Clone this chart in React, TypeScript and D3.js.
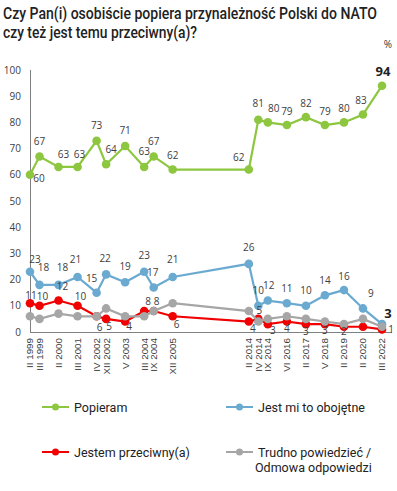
import React from "react";
import * as d3 from "d3";

// Categories as laid out on the original axis ("" = empty slot)
const categories: string[] = [
  "II 1999", "III 1999", "", "II 2000", "", "III 2001", "", "IV 2002", "XII 2002", "",
  "V 2003", "", "III 2004", "IX 2004", "", "XII 2005", "", "", "", "", "", "", "",
  "II 2014", "IV 2014", "IX 2014", "", "VI 2016", "", "II 2017", "", "V 2018", "",
  "II 2019", "", "II 2020", "", "III 2022",
];

const popieram = [60, 67, 63, 63, 73, 64, 71, 63, 67, 62, 62, 81, 80, 79, 82, 79, 80, 83, 94];
const obojetne = [23, 18, 18, 21, 15, 22, 19, 23, 17, 21, 26, 10, 12, 11, 10, 14, 16, 9, 3];
const przeciwny = [11, 10, 12, 10, 6, 5, 4, 8, 8, 6, 4, 5, 3, 4, 3, 3, 2, 2, 1];
const trudno = [6, 5, 7, 6, 6, 9, 6, 6, 8, 11, 8, 4, 5, 6, 5, 4, 3, 5, 2];

const yTicks = [0, 10, 20, 30, 40, 50, 60, 70, 80, 90, 100];

const titleLines = [
  "Czy Pan(i) osobiście popiera przynależność Polski do NATO",
  "czy też jest temu przeciwny(a)?",
];

const legendLabels = ["Popieram", "Jest mi to obojętne", "Jestem przeciwny(a)", "Trudno powiedzieć /|Odmowa odpowiedzi"];

const GREEN = "#8DC63F";
const BLUE = "#6BAAD0";
const RED = "#F00000";
const GRAY = "#A6A6A6";
const LABEL = "#404040";

// label offsets [dx, dy(center)] per series point
const greenOff: [number, number][] = [
  [9, 4], [0, -15], [5, -12], [2, -12], [0, -15], [5, -15], [0, -15], [0, -15], [0, -15], [0, -14],
  [-10, -12], [0, -16], [6, -14], [0, -14], [0, -14], [0, -14], [0, -14], [-2, -14], [1, -14],
];
const blueOff: [number, number][] = [
  [5, -12], [4, -17], [4, -17], [-2, -17], [-5, -14], [-1, -16], [0, -16], [0, -16], [-1, -15], [0, -17],
  [0, -16], [0, -15], [1, -15], [0, -15], [0, -15], [0, -15], [0, -14], [8, -15], [6, -11],
];
const redOff: ([number, number] | null)[] = [
  [1, -8], [3, -9], [4, -14], [3, -9], [3, 11], [3, 8], [4, 5], [4, -10], [3, -10], [4, 8],
  [4, 7], [1, -8], [5, 6], [0, 7], [0, 7], [0, 6], [0, 5], null, [9, 0],
];

export default function App() {
  const W = 397;
  const H = 491;
  const slotIdx = categories.map((_, i) => i);
  const x = d3.scalePoint<number>().domain(slotIdx).range([30, 382]).padding(0);
  const y = d3.scaleLinear().domain([0, 100]).range([332, 70]);

  const surveySlots = slotIdx.filter((i) => categories[i] !== "");

  const line = d3
    .line<[number, number]>()
    .x((d) => x(d[0]) as number)
    .y((d) => y(d[1]));

  const series = [
    { vals: popieram, color: GREEN },
    { vals: obojetne, color: BLUE },
    { vals: przeciwny, color: RED },
    { vals: trudno, color: GRAY },
  ];

  const pts = (vals: number[]) => vals.map((v, i) => [surveySlots[i], v] as [number, number]);

  const drawLabels = (
    vals: number[],
    offs: ([number, number] | null)[],
    key: string,
    boldLast: boolean
  ) =>
    vals.map((v, i) => {
      const o = offs[i];
      if (!o) return null;
      const last = i === vals.length - 1 && boldLast;
      return (
        <text
          key={key + i}
          x={(x(surveySlots[i]) as number) + o[0]}
          y={y(v) + o[1]}
          dy="0.35em"
          textAnchor="middle"
          fontSize={last ? 13 : 10}
          fontWeight={last ? 700 : 400}
          fill={last ? "#222" : LABEL}
          fontFamily="'Open Sans', sans-serif"
        >
          {v}
        </text>
      );
    });

  const legendPos = [
    { lx: 42, ly: 407, tx: 74 },
    { lx: 226, ly: 407, tx: 258 },
    { lx: 42, ly: 452, tx: 74 },
    { lx: 226, ly: 452, tx: 258 },
  ];
  const legendColors = [GREEN, BLUE, RED, GRAY];
  const titleWidths = [374, 194];

  return (
    <svg width={W} height={H} style={{ position: "absolute", left: 0, top: 0, background: "#fff" }}>
      <rect width={W} height={H} fill="#fff" />
      {titleLines.map((t, i) => (
        <text
          key={i}
          x={3}
          y={19 + i * 19}
          fontFamily="Roboto, sans-serif"
          fontSize={16}
          fontWeight={500}
          fill="#222"
          textLength={titleWidths[i]}
          lengthAdjust="spacingAndGlyphs"
        >
          {t}
        </text>
      ))}
      <text x={388} y={48} fontSize={10} fontFamily="'Open Sans', sans-serif" fill="#333" textAnchor="middle">
        %
      </text>

      <line x1={30.5} x2={30.5} y1={70} y2={332} stroke="#808080" strokeWidth={1} />
      <line x1={30} x2={392} y1={332.5} y2={332.5} stroke="#808080" strokeWidth={1} />
      {yTicks.map((t) => (
        <text
          key={t}
          x={21}
          y={y(t)}
          dy="0.35em"
          textAnchor="end"
          fontSize={10}
          fontFamily="'Open Sans', sans-serif"
          fill={LABEL}
        >
          {t}
        </text>
      ))}
      {surveySlots.map((s) => (
        <text
          key={s}
          transform={`translate(${x(s)},338) rotate(-90)`}
          dy="0.35em"
          textAnchor="end"
          fontSize={9.8}
          fontFamily="'Liberation Sans', Arial, sans-serif"
          fill={LABEL}
        >
          {categories[s]}
        </text>
      ))}

      {series.map((s, si) => (
        <g key={si}>
          <path d={line(pts(s.vals)) || ""} fill="none" stroke={s.color} strokeWidth={2.2} />
          {pts(s.vals).map((p, i) => (
            <circle key={i} cx={x(p[0]) as number} cy={y(p[1])} r={4.3} fill={s.color} />
          ))}
        </g>
      ))}

      {drawLabels(popieram, greenOff, "g", true)}
      {drawLabels(obojetne, blueOff, "b", true)}
      {drawLabels(przeciwny, redOff, "r", false)}

      {legendLabels.map((lab, i) => {
        const p = legendPos[i];
        const parts = lab.split("|");
        return (
          <g key={i}>
            <line x1={p.lx} x2={p.lx + 27} y1={p.ly} y2={p.ly} stroke={legendColors[i]} strokeWidth={2} />
            <circle cx={p.lx + 13.5} cy={p.ly} r={3.5} fill={legendColors[i]} />
            {parts.map((pt, j) => (
              <text
                key={j}
                x={p.tx + (j === 1 ? -3 : 0)}
                y={p.ly + 5 + j * 15}
                fontSize={12.5}
                fontFamily="Roboto, sans-serif"
                fill="#222"
              >
                {pt}
              </text>
            ))}
          </g>
        );
      })}
    </svg>
  );
}
